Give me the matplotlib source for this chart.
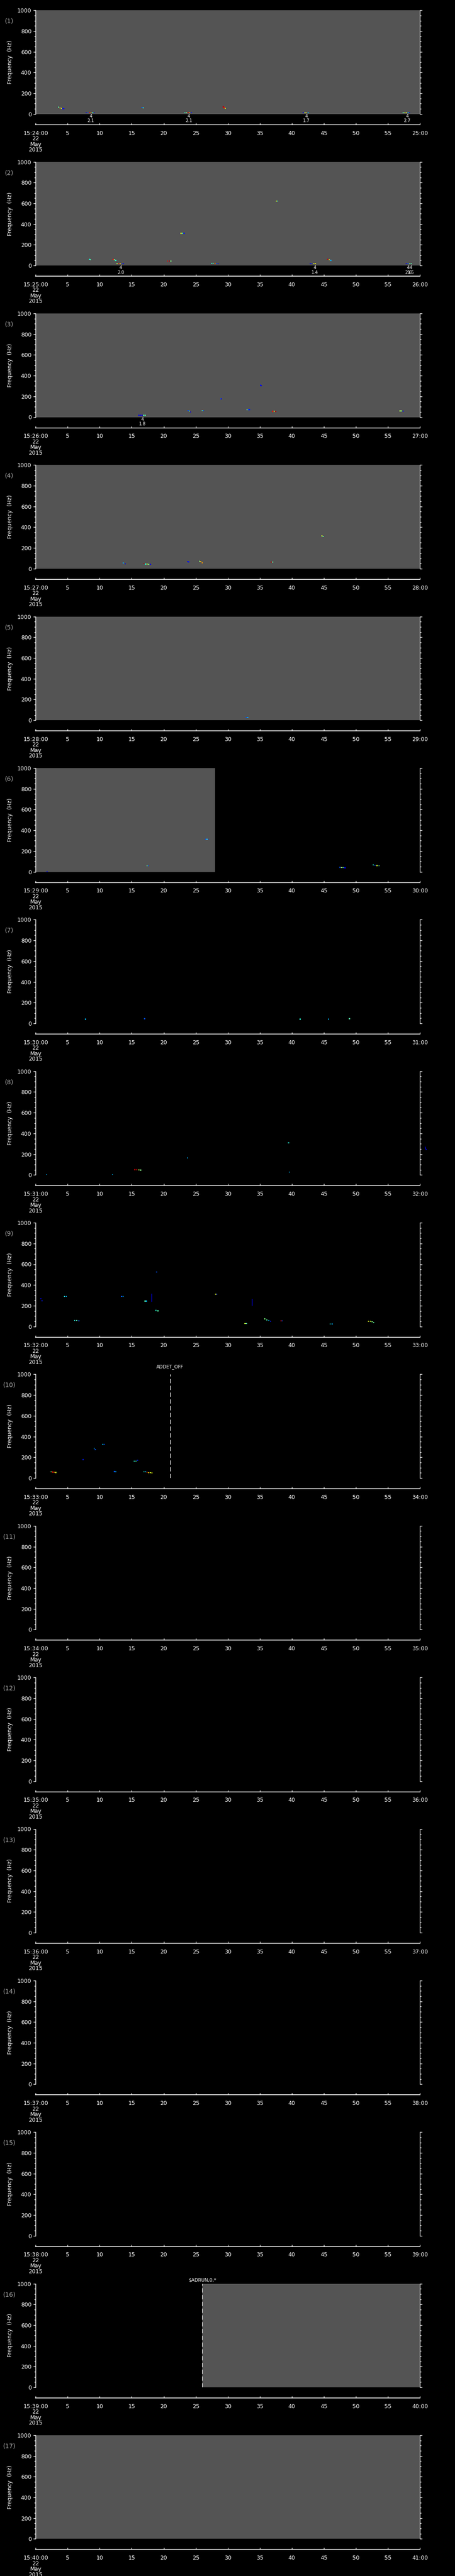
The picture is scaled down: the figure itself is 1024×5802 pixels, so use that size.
import numpy as np
import matplotlib.pyplot as plt

W, H, DPI = 1024, 5802, 100

# one panel per minute, 22 May 2015
start_minutes = [24, 25, 26, 27, 28, 29, 30, 31, 32, 33, 34, 35, 36, 37, 38, 39, 40]
panel_ids = ['(1)', '(2)', '(3)', '(4)', '(5)', '(6)', '(7)', '(8)', '(9)', '(10)',
             '(11)', '(12)', '(13)', '(14)', '(15)', '(16)', '(17)']

# seconds covered by data (grey background)
gray_spans = [[(0, 60)], [(0, 60)], [(0, 60)], [(0, 60)], [(0, 60)], [(0, 28)],
              [], [], [], [], [], [], [], [], [], [(26, 60)], [(0, 60)]]

# event marks under the panel: (second, upper label, lower label)
events = [
    [(8.6, '4', '2.1'), (23.9, '4', '2.1'), (42.3, '4', '1.7'), (58.0, '4', '2.7')],
    [(13.3, '4', '2.0'), (43.6, '4', '1.4'), (58.2, '4', '2.6'), (58.6, '4', '1.5')],
    [(16.7, '4', '1.8')],
    [], [], [], [], [], [], [], [], [], [], [], [], [], [],
]

# spectrogram pixels: (second, frequency Hz, level 0..1)
blips = [
    [(3.6, 66, .45), (3.8, 60, .65), (4.0, 55, .65), (4.2, 52, .15), (4.4, 50, .1),
     (7.9, 13, .1), (8.15, 13, .2), (8.4, 13, .9), (8.65, 13, .7), (8.9, 13, .4), (9.15, 13, .1),
     (16.6, 63, .2), (16.8, 59, .4),
     (23.3, 13, .4), (23.55, 13, .5), (23.8, 13, .9), (24.05, 13, .7), (24.3, 13, .15),
     (29.3, 70, .95), (29.45, 62, .9), (29.6, 54, .65),
     (41.8, 13, .1), (42.05, 13, .6), (42.3, 13, .7), (42.55, 13, .3),
     (57.4, 13, .45), (57.65, 13, .6), (57.9, 13, .65), (58.15, 13, .3), (58.4, 13, .1)],
    [(8.4, 60, .4), (8.6, 57, .45),
     (12.1, 61, .9), (12.3, 57, .5), (12.5, 50, .4),
     (12.7, 17, .55), (12.95, 17, .9), (13.2, 17, .7), (13.45, 17, .2), (13.7, 17, .1),
     (20.6, 43, .9), (20.85, 43, .95), (21.1, 43, .5),
     (22.7, 311, .6), (22.95, 311, .4), (23.2, 311, .15),
     (27.5, 21, .4), (27.75, 21, .45), (28.0, 19, .8), (28.25, 17, .2), (28.5, 17, .1),
     (37.6, 622, .6), (37.8, 622, .4),
     (42.9, 17, .1), (43.15, 17, .15), (43.4, 17, .6), (43.65, 17, .65),
     (45.6, 61, .95), (45.85, 56, .6), (46.1, 50, .3),
     (57.9, 17, .1), (58.15, 17, .2), (58.4, 17, .5), (58.65, 17, .45)],
    [(16.1, 17, .1), (16.35, 17, .1), (16.6, 17, .1), (16.85, 17, .45), (17.1, 17, .45),
     (23.8, 63, .2), (24.0, 57, .4), (24.2, 50, .1),
     (26.0, 63, .45), (26.2, 63, .2),
     (28.9, 178, .2), (29.0, 175, .1),
     (33.0, 73, .45), (33.2, 73, .2), (33.4, 73, .15),
     (35.1, 308, .15), (35.2, 305, .1),
     (37.0, 56, .9), (37.25, 56, .6), (37.5, 54, .95),
     (56.9, 60, .55), (57.15, 60, .5), (57.4, 58, .15)],
    [(13.7, 54, .3), (14.0, 47, .1),
     (16.9, 50, .95), (17.15, 45, .4), (17.4, 45, .6), (17.65, 43, .5), (17.9, 43, .1),
     (23.7, 67, .1), (23.9, 65, .15),
     (25.6, 73, .5), (25.75, 67, .7), (26.0, 58, .75),
     (36.8, 64, .95), (37.0, 64, .45),
     (44.7, 316, .6), (44.9, 312, .45)],
    [(32.9, 26, .2), (33.1, 26, .3)],
    [(1.8, 2, .1),
     (17.4, 58, .45), (17.6, 58, .2),
     (26.6, 312, .2), (26.75, 312, .45), (26.9, 312, .15),
     (47.5, 44, .2), (47.75, 42, .55), (48.0, 40, .45), (48.2, 39, .1), (48.4, 39, .1),
     (52.7, 67, .4), (53.0, 63, .2), (53.3, 60, .6), (53.6, 57, .45)],
    [(7.8, 40, .3), (17.0, 45, .2), (41.3, 40, .4), (45.7, 40, .3), (49.0, 45, .45)],
    [(1.7, 2, .3), (12.0, 2, .3),
     (15.5, 51, .95), (15.8, 50, .9), (16.1, 48, .55), (16.4, 46, .5),
     (23.7, 163, .3), (39.5, 309, .4), (39.6, 26, .3)],
    [(0.8, 269, .1), (1.0, 247, .15),
     (4.5, 289, .4), (4.75, 289, .3),
     (6.1, 59, .4), (6.4, 58, .45), (6.75, 54, .2),
     (13.4, 289, .2), (13.65, 289, .3),
     (17.1, 245, .45), (17.3, 245, .3),
     (18.9, 525, .2),
     (18.8, 154, .4), (19.1, 150, .45),
     (28.1, 311, .6), (28.3, 311, .15),
     (32.7, 28, .6), (32.9, 28, .45),
     (35.8, 73, .5), (36.1, 62, .45), (36.4, 58, .3), (36.7, 50, .15),
     (38.3, 54, .95), (38.5, 54, .2),
     (46.0, 24, .4), (46.3, 24, .3),
     (52.0, 50, .6), (52.3, 50, .6), (52.55, 45, .5), (52.8, 36, .45)],
    [(2.4, 59, .5), (2.65, 58, .9), (2.9, 56, .75), (3.15, 53, .6),
     (7.4, 178, .15),
     (9.15, 287, .3), (9.3, 274, .2),
     (10.5, 326, .3), (10.75, 326, .2),
     (12.3, 61, .2), (12.5, 59, .3),
     (15.4, 162, .4), (15.65, 162, .45), (15.9, 170, .15),
     (16.9, 60, .4), (17.15, 59, .3), (17.4, 55, .85), (17.65, 52, .7), (17.9, 52, .6), (18.15, 50, .65)],
    [], [], [], [], [], [], [],
]

# vertical streaks: (panel index, second, f low, f high, level)
spikes = [(8, 18.1, 244, 315, .12), (8, 33.8, 204, 264, .12)]
# points drawn just past the right edge of panel (8)
outside = [(7, 60.8, 266, .1), (7, 60.9, 254, .12), (7, 61.0, 244, .1)]

# mode flags: (panel index, second, text, text height above the panel in px)
flags = [(9, 20.97, 'ADDET_OFF', 17), (15, 26.0, '$ADRUN,0,*', 8.5)]

GREY = '#545454'
cmap = plt.get_cmap('jet')

fig = plt.figure(figsize=(W / DPI, H / DPI), dpi=DPI, facecolor='black')


def fy(px):
    return 1 - px / H


ax_left, ax_w, ax_h = 80.3, 864.7, 233.5
for k in range(17):
    top = 23.3 + k * 341.35
    bot = top + ax_h
    ax = fig.add_axes([ax_left / W, fy(bot), ax_w / W, ax_h / H])
    ax.set_facecolor('black')
    ax.set_xlim(0, 60)
    ax.set_ylim(0, 1000)
    for a, b in gray_spans[k]:
        ax.axvspan(a, b, color=GREY, lw=0)
    for s in ('top', 'bottom'):
        ax.spines[s].set_visible(False)
    for s in ('left', 'right'):
        ax.spines[s].set_color('white')
        ax.spines[s].set_linewidth(1)
    ax.set_xticks([])
    ax.set_yticks(np.arange(0, 1001, 200))
    ax.set_yticks(np.arange(0, 1001, 50), minor=True)
    ax.tick_params(axis='y', which='both', colors='white', direction='out',
                   left=True, right=True, labelleft=True, labelright=False,
                   labelsize=9, pad=3.5)
    ax.tick_params(axis='y', which='major', length=3.4, width=1)
    ax.tick_params(axis='y', which='minor', length=2.0, width=1)

    pts = blips[k]
    if pts:
        t, f, v = zip(*pts)
        ax.scatter(t, f, c=cmap(np.array(v)), marker='s', s=3.2, lw=0, zorder=3)
    for p, t, f0, f1, v in spikes:
        if p == k:
            ax.plot([t, t], [f0, f1], color=cmap(v), lw=1, zorder=3)
    for p, t, f, v in outside:
        if p == k:
            ax.scatter([t], [f], color=cmap(v), marker='s', s=2.5, lw=0, clip_on=False)
    for p, t, txt, dy in flags:
        if p == k:
            ax.axvline(t, color='white', lw=1, ls=(0, (7, 4)), zorder=4)
            ax.annotate(txt, xy=(t, 1), xycoords=('data', 'axes fraction'),
                        xytext=(0, dy * 0.72), textcoords='offset points',
                        ha='center', va='center', color='white', fontsize=7.5)

    for t, up, low in events[k]:
        ax.annotate(up, xy=(t, 0), xycoords=('data', 'axes fraction'),
                    xytext=(0, -5.2 * 0.72), textcoords='offset points',
                    ha='center', va='center', color='white', fontsize=7)
        ax.annotate(low, xy=(t, 0), xycoords=('data', 'axes fraction'),
                    xytext=(0, -15.5 * 0.72), textcoords='offset points',
                    ha='center', va='center', color='white', fontsize=7)

    # time axis below the panel
    line_y = bot + 24
    tax = fig.add_axes([ax_left / W, fy(line_y), ax_w / W, 0.5 / H])
    tax.set_facecolor('none')
    tax.set_xlim(0, 60)
    tax.set_yticks([])
    for s in ('top', 'left', 'right'):
        tax.spines[s].set_visible(False)
    tax.spines['bottom'].set_color('white')
    tax.spines['bottom'].set_linewidth(1.2)
    m = start_minutes[k]
    labels = ['15:%02d:00\n22\nMay\n2015' % m] + [str(s) for s in range(5, 60, 5)] + ['%02d:00' % (m + 1)]
    tax.set_xticks(np.arange(0, 61, 5))
    tax.set_xticklabels(labels, linespacing=0.95)
    tax.tick_params(axis='x', colors='white', direction='in', length=3.1, width=1,
                    labelsize=9, pad=9.2)

    fig.text(23 / W, fy((top + bot) / 2), 'Frequency  (Hz)', rotation=90,
             ha='center', va='center', color='white', fontsize=9)
    fig.text(21 / W, fy(top + 24.5), panel_ids[k], ha='center', va='center',
             color='#a8a8a8', fontsize=10)

fig.savefig('out.png', dpi=DPI, facecolor='black')
